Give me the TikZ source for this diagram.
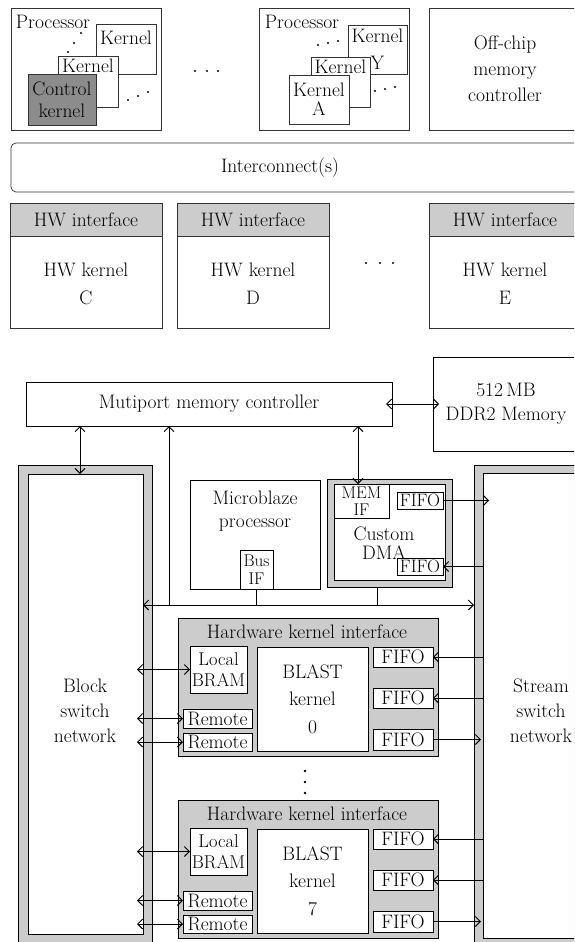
\documentclass[tikz,border=0pt]{standalone}
\usepackage{tikz}
\usetikzlibrary{positioning, arrows.meta}

\tikzset{
  unit/.style={draw=black!80, line width=0.7pt, fill=white, inner sep=0pt, outer sep=0pt, anchor=north west},
  part/.style={draw, line width=0.9pt, fill=white, inner sep=0pt, outer sep=0pt, anchor=north west, align=center},
  ring/.style={part, fill=gray!40},
  lbl/.style={inner sep=0pt, align=center},
  tight/.style={lbl, font=\fontsize{19.5}{#1}\selectfont},
  link/.style={line width=0.9pt}
}

\begin{document}
\begin{tikzpicture}[x=1pt, y=-1pt, >={Straight Barb[length=5pt,width=10pt]},
  font=\fontsize{19.5}{25}\selectfont]

\useasboundingbox (0,0) rectangle (574,942);
\clip (0,0) rectangle (574,942);

% ---------- generic architecture: processors ----------
\node[unit, minimum width=150pt, minimum height=122pt] (proc1) at (11,8) {};
\node[lbl] (proc1lbl) at (53,22) {Processor};
\node[unit, minimum width=60pt, minimum height=50pt] (k1b) at (96,24) {};
\node[lbl, below=7pt of k1b.north] (k1blbl) {Kernel};
\node[unit, minimum width=60pt, minimum height=51pt] (k1m) at (58,56) {};
\node[lbl, below=3pt of k1m.north] (k1mlbl) {Kernel};
\node[unit, fill=black!45, minimum width=68pt, minimum height=51pt] (k1c) at (28,74) {};
\node[tight=22] (k1clbl) at (k1c) {Control\\kernel};
\foreach \p in {(68,52),(74,43),(81,33),(128,100),(138,96),(148,92),
                (195,71),(207,71),(218,71)}
  \fill \p circle (1.2pt);

\node[unit, minimum width=150pt, minimum height=122pt] (proc2) at (259,8) {};
\node[lbl] (proc2lbl) at (302,22) {Processor};
\node[unit, minimum width=59pt, minimum height=49pt] (k2y) at (348,25) {};
\node[tight=27, below=4pt of k2y.north] (k2ylbl) {Kernel\\Y};
\node[unit, minimum width=59pt, minimum height=50pt] (k2m) at (311,57) {};
\node[lbl, below=3pt of k2m.north] (k2mlbl) {Kernel};
\node[unit, minimum width=60pt, minimum height=49pt] (k2a) at (289,75) {};
\node[tight=19] (k2albl) at (k2a) {Kernel\\A};
\foreach \p in {(318,45),(328,43),(338,41),(375,91),(385,89),(395,87)}
  \fill \p circle (1.2pt);

\node[unit, minimum width=152pt, minimum height=122pt] (offchip) at (429,8) {};
\node[tight=26] (offchiplbl) at (505,69) {Off-chip\\memory\\controller};

% ---------- interconnect and HW kernels ----------
\node[unit, rounded corners=5pt, minimum width=600pt, minimum height=49pt] (icn) at (11,143) {};
\node[lbl] (icnlbl) at (280,168) {Interconnect(s)};

\foreach \n/\x/\lt in {c/10/C, d/177/D, e/429/E}{
  \node[unit, fill=gray!40, minimum width=152pt, minimum height=33pt] (hwh\n) at (\x,203) {};
  \node[lbl] (hwhlbl\n) at (hwh\n) {HW interface};
  \node[unit, minimum width=152pt, minimum height=92pt] (hwb\n) at (\x,236) {};
  \node[tight=28] (hwblbl\n) at ([yshift=-2pt]hwb\n.center) {HW kernel\\\lt};
}
\foreach \p in {(366,263),(380,263),(393,263)}
  \fill \p circle (1.2pt);

% ---------- BLAST system: memory ----------
\node[part, minimum width=366pt, minimum height=44pt] (mpmc) at (26,382) {Mutiport memory controller};
\node[part, font=\fontsize{19.5}{24}\selectfont, minimum width=146pt, minimum height=94pt] (ddr) at (433,357) {512\,MB\\DDR2 Memory};

% ---------- switch networks ----------
\node[ring, minimum width=134pt, minimum height=490pt] (blkframe) at (18,465) {};
\node[part, minimum width=115pt, minimum height=460pt] (blk) at (28,474) {};
\node[tight=25] (blklbl) at (85,711) {Block\\switch\\network};
\node[ring, minimum width=140pt, minimum height=490pt] (strframe) at (474,465) {};
\node[part, minimum width=130pt, minimum height=465pt] (str) at (483,473) {};
\node[tight=25] (strlbl) at (541,711) {Stream\\switch\\network};

% ---------- processor and DMA ----------
\node[part, minimum width=130pt, minimum height=109pt] (mb) at (190,480) {};
\node[tight=23] (mblbl) at (255,511) {Microblaze\\processor};
\node[part, font=\fontsize{17}{18}\selectfont, minimum width=33pt, minimum height=39pt] (busif) at (240,550) {Bus\\IF};

\node[ring, minimum width=125pt, minimum height=108pt] (dmaframe) at (327,479) {};
\node[part, minimum width=111pt, minimum height=96pt] (dma) at (334,484) {};
\node[part, font=\fontsize{17}{17}\selectfont, minimum width=55pt, minimum height=34pt] (memif) at (334,484) {MEM\\IF};
\node[part, font=\fontsize{18}{18}\selectfont, minimum width=46pt, minimum height=17pt] (dmafifoa) at (397,492) {FIFO};
\node[part, font=\fontsize{18}{18}\selectfont, minimum width=46pt, minimum height=17pt] (dmafifob) at (397,558) {FIFO};
\node[tight=19] (dmalbl) at (384,543) {Custom\\DMA};

% ---------- links ----------
\coordinate (busy) at (0,605);
\coordinate (tapblk) at (80,0);
\coordinate (tapmb) at (169,0);
\coordinate (tapdma) at (377,0);
\coordinate (tapmem) at (358,0);
\draw[link,<->,shorten <=-6pt,shorten >=-6pt] (mpmc.east) -- (mpmc.east -| ddr.west);
\draw[link,<->] (mpmc.south -| tapblk) -- (blk.north -| tapblk);
\draw[link,<->] (mpmc.south -| tapmem) -- (memif.north -| tapmem);
\draw[link,<->] (blk.east |- busy) -- (strframe.west |- busy);
\draw[link,->] (tapmb |- busy) -- (tapmb |- mpmc.south);
\draw[link] (busif.south) -- (busif.south |- busy);
\draw[link] (tapdma |- dmaframe.south) -- (tapdma |- busy);
\draw[link,->,shorten >=-6pt] (dmafifoa.east) -- (dmafifoa.east -| str.west);
\draw[link,->] (dmafifob.east -| str.west) -- (dmafifob.east);

% ---------- hardware kernel interfaces ----------
\foreach \k/\d in {0/0,7/182}{
  \node[ring, minimum width=260pt, minimum height=138pt] (hki\k) at (178,{618+\d}) {};
  \node[lbl] (hkilbl\k) at (307,{632+\d}) {Hardware kernel interface};
  \node[part, font=\fontsize{18.5}{21}\selectfont, minimum width=57pt, minimum height=47pt] (bram\k) at (190,{646+\d}) {Local\\BRAM};
  \node[part, font=\fontsize{19.5}{27.5}\selectfont, minimum width=111pt, minimum height=104pt] (blast\k) at (257,{647+\d}) {BLAST\\kernel\\\k};
  \node[part, minimum width=69pt, minimum height=19pt] (rema\k) at (183,{709+\d}) {Remote};
  \node[part, minimum width=69pt, minimum height=18pt] (remb\k) at (183,{733+\d}) {Remote};
  \node[part, minimum width=60pt, minimum height=20pt] (fifoa\k) at (373,{647+\d}) {FIFO};
  \node[part, minimum width=60pt, minimum height=20pt] (fifob\k) at (373,{688+\d}) {FIFO};
  \node[part, minimum width=60pt, minimum height=21pt] (fifoc\k) at (373,{729+\d}) {FIFO};
  \draw[link,<->,shorten <=-6pt] (blk.east |- bram\k.west) -- (bram\k.west);
  \draw[link,<->,shorten <=-6pt] (blk.east |- rema\k.west) -- (rema\k.west);
  \draw[link,<->,shorten <=-6pt] (blk.east |- remb\k.west) -- (remb\k.west);
  \draw[link,->] (str.west |- fifoa\k.east) -- (fifoa\k.east);
  \draw[link,->] (str.west |- fifob\k.east) -- (fifob\k.east);
  \draw[link,->,shorten >=2pt] (fifoc\k.east) -- (fifoc\k.east -| str.west);
}
\foreach \y in {771,782,793}
  \fill (305,\y) circle (1.3pt);

\end{tikzpicture}
\end{document}
